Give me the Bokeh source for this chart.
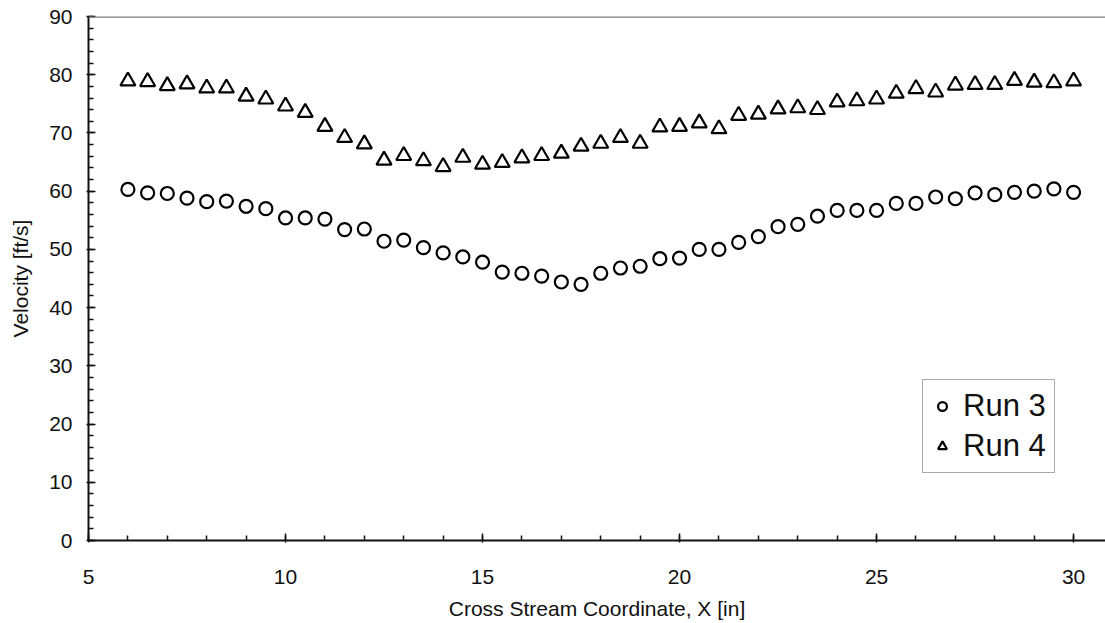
from bokeh.plotting import figure
from bokeh.models import Range1d, SingleIntervalTicker, Span, Legend, LegendItem
from bokeh.embed import file_html
from bokeh.resources import INLINE

# Data
x_pos = [6 + 0.5 * i for i in range(49)]
run3 = [60.3, 59.7, 59.6, 58.8, 58.2, 58.3, 57.4, 57.0, 55.4, 55.4, 55.2, 53.4, 53.5,
        51.4, 51.6, 50.3, 49.4, 48.7, 47.8, 46.1, 45.9, 45.4, 44.4, 44.0, 45.9,
        46.8, 47.1, 48.4, 48.5, 50.0, 50.0, 51.2, 52.2, 53.9, 54.3, 55.7, 56.7,
        56.7, 56.7, 57.9, 57.9, 59.0, 58.7, 59.7, 59.4, 59.8, 60.0, 60.4, 59.8]
run4 = [78.9, 78.8, 78.1, 78.4, 77.7, 77.7, 76.3, 75.8, 74.6, 73.5, 71.1, 69.2, 68.1,
        65.3, 66.1, 65.2, 64.2, 65.8, 64.6, 64.9, 65.7, 66.1, 66.5, 67.7, 68.2,
        69.2, 68.2, 71.0, 71.1, 71.7, 70.7, 73.0, 73.2, 74.1, 74.3, 74.0, 75.3,
        75.5, 75.8, 76.8, 77.6, 77.0, 78.2, 78.3, 78.3, 79.0, 78.7, 78.6, 78.9]
series_names = ["Run 3", "Run 4"]
x_title = "Cross Stream Coordinate, X [in]"
y_title = "Velocity [ft/s]"

FONT = "Liberation Sans"

p = figure(frame_width=1017, frame_height=524, output_backend="svg",
           toolbar_location=None, x_range=Range1d(5, 30.81), y_range=Range1d(0, 90),
           min_border_left=88, min_border_top=16, min_border_right=0, min_border_bottom=10)
p.outline_line_color = None
p.grid.visible = False
p.background_fill_color = "white"
p.border_fill_color = "white"

p.xaxis.ticker = SingleIntervalTicker(interval=5, num_minor_ticks=5)
p.yaxis.ticker = SingleIntervalTicker(interval=10, num_minor_ticks=5)

for ax in (p.xaxis, p.yaxis):
    ax.axis_line_color = "#111111"
    ax.axis_line_width = 2
    ax.major_tick_line_color = "#111111"
    ax.minor_tick_line_color = "#111111"
    ax.major_tick_line_width = 1.5
    ax.minor_tick_line_width = 1.5
    ax.major_tick_in = 7
    ax.major_tick_out = 2
    ax.minor_tick_in = 5
    ax.minor_tick_out = 0
    ax.major_label_text_font = FONT
    ax.major_label_text_font_size = "21px"
    ax.major_label_text_color = "#111111"
    ax.axis_label_text_font = FONT
    ax.axis_label_text_font_size = "21px"
    ax.axis_label_text_font_style = "normal"
    ax.axis_label_text_color = "#111111"

p.xaxis.axis_label = x_title
p.yaxis.axis_label = y_title
p.xaxis.major_label_standoff = 27
p.xaxis.axis_label_standoff = 10
p.yaxis.major_label_standoff = 14
p.yaxis.axis_label_standoff = 14

top = Span(location=90, dimension="width", line_color="#808080", line_width=2.5)
p.add_layout(top)

r3 = p.scatter(x_pos, run3, marker="circle", size=13, fill_color=None,
               line_color="black", line_width=2.2)
r4 = p.scatter(x_pos, run4, marker="triangle", size=15, fill_color=None,
               line_color="black", line_width=2.2)

legend = Legend(items=[LegendItem(label=series_names[0], renderers=[r3]),
                       LegendItem(label=series_names[1], renderers=[r4])],
                location=(834, 67), label_text_font=FONT, label_text_font_size="31px",
                label_text_color="#111111", border_line_color="#555555", border_line_width=1,
                padding=8, spacing=4, label_standoff=10, glyph_width=22, glyph_height=26,
                margin=0, background_fill_alpha=1.0)
p.add_layout(legend)

open("out.html", "w").write(file_html(p, INLINE))
